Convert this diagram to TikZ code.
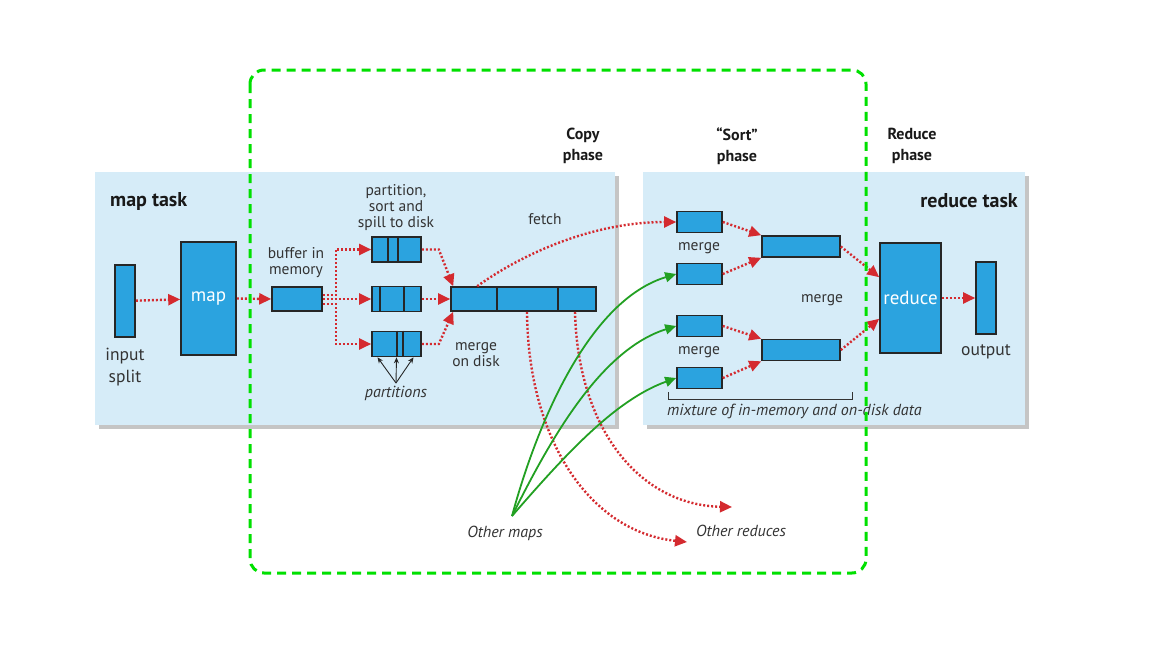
\documentclass[tikz,border=0pt]{standalone}
\usepackage{fontspec}
\setmainfont{PT Sans}
\usetikzlibrary{arrows.meta,shadows}
\definecolor{panel}{HTML}{D6ECF8}
\definecolor{boxblue}{HTML}{2BA3DF}
\definecolor{dotred}{HTML}{D42A2F}
\definecolor{arrgreen}{HTML}{22A022}
\definecolor{phasegreen}{HTML}{00E000}
\definecolor{txt}{HTML}{333333}
\tikzset{
  panelbox/.style={fill=panel,draw=none,inner sep=0pt,
    drop shadow={shadow xshift=4pt,shadow yshift=-4pt,fill=black!45,opacity=.5}},
  blk/.style={draw=black!85,line width=1.6pt,fill=boxblue,inner sep=0pt,text=white,
    font=\fontsize{19}{19}\selectfont},
  divline/.style={draw=black!85,line width=1.4pt},
  redarr/.style={dotred,line width=2.4pt,dash pattern=on 2pt off 2pt,
    -{Triangle[length=12pt,width=11pt]}},
  grnarr/.style={arrgreen,line width=1.8pt,-{Triangle[length=11pt,width=10pt]}},
  lbl/.style={text=txt,font=\fontsize{15.5}{16}\selectfont,align=center,inner sep=0pt},
  biglbl/.style={lbl,font=\fontsize{17.5}{22}\selectfont},
  ital/.style={lbl,font=\fontsize{16}{16}\selectfont\itshape},
  title/.style={text=black!90,font=\fontsize{16}{21}\selectfont\bfseries,align=center,inner sep=0pt},
  tasktitle/.style={title,font=\fontsize{20}{20}\selectfont\bfseries}
}
\begin{document}
\begin{tikzpicture}[x=1pt,y=-1pt]
\useasboundingbox (0,0) rectangle (1152,648);
\fill[white] (0,0) rectangle (1152,648);

% panels
\node[panelbox,minimum width=520pt,minimum height=253pt,anchor=north west] (mappanel) at (95,172) {};
\node[panelbox,minimum width=382pt,minimum height=253pt,anchor=north west] (redpanel) at (643,172) {};

\node[tasktitle,anchor=west] (maptitle) at (110,201) {map task};
\node[tasktitle,anchor=east] (redtitle) at (1018,201) {reduce task};
\node[title] (copyph) at (583,146) {Copy\\phase};
\node[title] (sortph) at (737,146) {“Sort”\\phase};
\node[title] (redph) at (912,146) {Reduce\\phase};

% map side
\node[blk,minimum width=20pt,minimum height=72pt] (split) at (125,301) {};
\node[biglbl] (splitlbl) at (125,367) {input\\split};
\node[blk,minimum width=55pt,minimum height=113pt] (map) at (208.5,298.5) {map};
\node[blk,minimum width=50pt,minimum height=24pt] (buf) at (297,299) {};
\node[lbl] (buflbl) at (296,263) {buffer in\\memory};
\node[blk,minimum width=49pt,minimum height=25pt] (p1) at (396.5,249.5) {};
\node[blk,minimum width=49pt,minimum height=25pt] (p2) at (396.5,299) {};
\node[blk,minimum width=49pt,minimum height=25pt] (p3) at (396.5,344) {};
\node[lbl] (spilllbl) at (396,208) {partition,\\sort and\\spill to disk};
\node[blk,minimum width=145pt,minimum height=24pt] (mrg) at (523.5,299) {};
\node[lbl] (mrglbl) at (476,355) {merge\\on disk};
\node[lbl] (fetchlbl) at (545,219) {fetch};
\node[ital] (parts) at (396,393) {partitions};
\foreach \b/\dx in {p1/-8.5,p1/1.5,p2/-16.5,p2/7.5,p3/0.5,p3/6.5,mrg/-26.5,mrg/34.5}
  \draw[divline] ([xshift=\dx pt]\b.north) -- ([xshift=\dx pt]\b.south);
\coordinate (apex) at (396,383);
\foreach \dx in {-19,0,17}
  \draw[black!85,line width=0.9pt,-{Stealth[length=6pt,width=5pt]}] (apex) -- ([xshift=\dx pt]p3.south);

% reduce side
\node[blk,minimum width=45pt,minimum height=21pt] (m1) at (699.5,222) {};
\node[blk,minimum width=45pt,minimum height=21pt] (m2) at (699.5,274) {};
\node[blk,minimum width=45pt,minimum height=21pt] (m3) at (699.5,326) {};
\node[blk,minimum width=45pt,minimum height=21pt] (m4) at (699.5,378) {};
\node[blk,minimum width=78pt,minimum height=21pt] (l1) at (801,246.5) {};
\node[blk,minimum width=78pt,minimum height=21pt] (l2) at (801,350) {};
\node[lbl] (mlbl1) at (699,248) {merge};
\node[lbl] (mlbl2) at (699,352) {merge};
\node[lbl] (mlbl3) at (822,300) {merge};
\node[blk,minimum width=61pt,minimum height=110pt] (red) at (910.5,298) {reduce};
\node[blk,minimum width=20pt,minimum height=72pt] (out) at (986,298) {};
\node[biglbl] (outlbl) at (986,352) {output};
\draw[txt,line width=1pt] (668,392) -- (668,399) -- (852,399) -- (852,392);
\node[ital,anchor=west] (mixlbl) at (667,411) {mixture of in-memory and on-disk data};

% red dotted flow
\draw[redarr] (split) -- (map);
\draw[redarr] (map.east) -- (buf.west);
\draw[redarr] ([yshift=4pt]buf.east) -- ++(13,0) |- (p1.west);
\draw[redarr] (buf.east) -- (p2.west);
\draw[redarr] ([yshift=-5pt]buf.east) -- ++(13,0) |- (p3.west);
\draw[redarr] (p1.east) -- ++(17,0) -- ([xshift=3pt]mrg.north west);
\draw[redarr] (p2.east) -- (mrg.west);
\draw[redarr] (p3.east) -- ++(17,0) -- ([xshift=3pt]mrg.south west);
\draw[redarr] ([xshift=27pt]mrg.north west) .. controls (525,252) and (595,222) .. (m1.west);
\draw[redarr] (m1.east) -- (l1.north west);
\draw[redarr] (m2.east) -- (l1.south west);
\draw[redarr] (m3.east) -- (l2.north west);
\draw[redarr] (m4.east) -- (l2.south west);
\draw[redarr] (l1.east) -- ([yshift=-35pt]red.north west);
\draw[redarr] (l2.east) -- ([yshift=35pt]red.south west);
\draw[redarr] (red.east) -- (out.west);

% to other reduces
\coordinate (or1) at (687,542);
\coordinate (or2) at (732,507);
\draw[redarr] ([xshift=3.5pt]mrg.south) .. controls (528,440) and (590,532) .. (or1);
\draw[redarr] ([xshift=51.5pt]mrg.south) .. controls (578,430) and (640,505) .. (or2);
\node[ital] (otherred) at (741,531) {Other reduces};

% from other maps
\coordinate (om) at (512,516);
\node[ital] (othermap) at (505,533) {Other maps};
\draw[grnarr] (om) .. controls (538,420) and (590,300) .. (m2.west);
\draw[grnarr] (om) .. controls (550,440) and (600,350) .. (m3.west);
\draw[grnarr] (om) .. controls (565,455) and (615,400) .. (m4.west);

% phase frame
\draw[phasegreen,line width=3pt,dash pattern=on 9pt off 6pt,rounded corners=14pt] (250,70) rectangle (866,573);
\end{tikzpicture}
\end{document}
